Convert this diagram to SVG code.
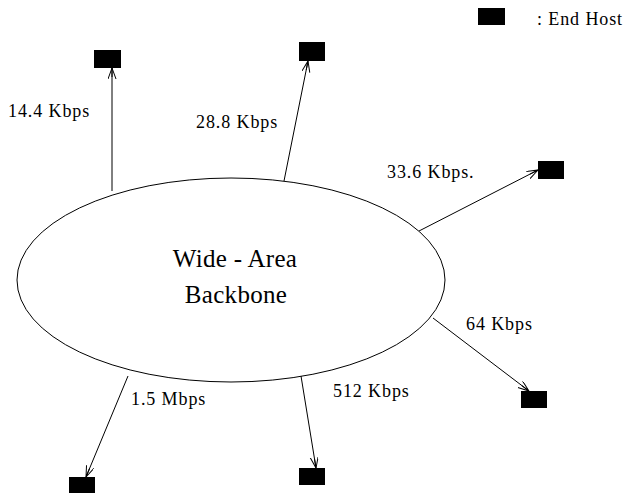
<svg xmlns="http://www.w3.org/2000/svg" width="632" height="493" viewBox="0 0 632 493">
<style>
text{font-family:"Liberation Serif","Times New Roman",serif;fill:#000}
.lbl{font-size:18px;letter-spacing:0.9px}
.big{font-size:25px;text-anchor:middle;letter-spacing:0.3px}
.host{fill:#000}
.c line{stroke:#000;stroke-width:1;marker-end:url(#arr)}
</style>
<defs>
<marker id="arr" markerWidth="14" markerHeight="10" refX="11" refY="4" orient="auto" markerUnits="userSpaceOnUse">
<path d="M0,0 L11,4 L0,8 M11,4 L2,4" fill="none" stroke="#000" stroke-width="1"/>
</marker>
</defs>
<rect width="632" height="493" fill="#fff"/>
<g id="legend">
<rect class="host" x="478" y="8" width="27" height="17"/>
<text class="lbl" x="537" y="25">: End  Host</text>
</g>
<g id="backbone">
<ellipse cx="231" cy="280" rx="214" ry="102" fill="none" stroke="#000" stroke-width="1"/>
<text class="big" x="235" y="267">Wide - Area</text>
<text class="big" x="236" y="303">Backbone</text>
</g>
<g id="host1"><rect class="host" x="94" y="50" width="27" height="18"/></g>
<g id="host2"><rect class="host" x="299" y="42" width="26" height="19"/></g>
<g id="host3"><rect class="host" x="538" y="161" width="26" height="18"/></g>
<g id="host4"><rect class="host" x="521" y="391" width="26" height="17"/></g>
<g id="host5"><rect class="host" x="69" y="477" width="26" height="17"/></g>
<g id="host6"><rect class="host" x="299" y="468" width="26" height="17"/></g>
<g class="c" id="connectors">
<line x1="112" y1="191" x2="112" y2="68"/>
<line x1="284" y1="181" x2="308" y2="61"/>
<line x1="419" y1="231" x2="538" y2="170"/>
<line x1="433" y1="318" x2="529" y2="391"/>
<line x1="128" y1="376" x2="86" y2="477"/>
<line x1="301" y1="376" x2="316" y2="468"/>
</g>
<g id="labels">
<text class="lbl" x="8" y="117">14.4 Kbps</text>
<text class="lbl" x="196" y="128">28.8 Kbps</text>
<text class="lbl" x="387" y="178">33.6 Kbps.</text>
<text class="lbl" x="466" y="330">64 Kbps</text>
<text class="lbl" x="131" y="405">1.5 Mbps</text>
<text class="lbl" x="333" y="397">512 Kbps</text>
</g>
</svg>
